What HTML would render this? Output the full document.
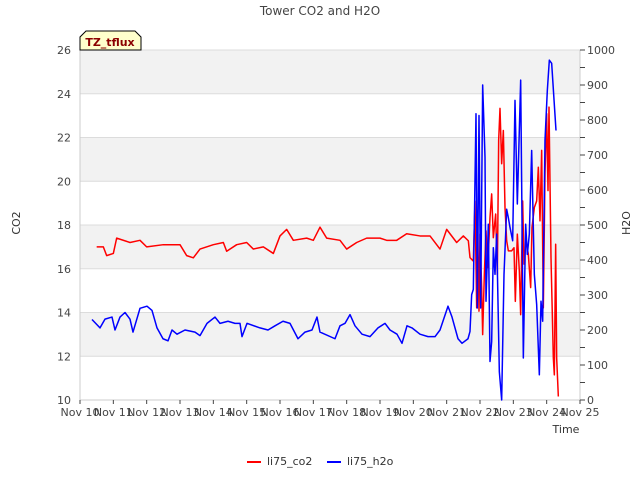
<!DOCTYPE html>
<html><head><meta charset="utf-8"><style>
body{margin:0;background:#fff;width:640px;height:480px;overflow:hidden}
svg text{font-family:"DejaVu Sans","Liberation Sans",sans-serif}
</style></head><body>
<svg id="chart" width="640" height="480" xmlns="http://www.w3.org/2000/svg">
<text x="320" y="15" text-anchor="middle" font-size="12" fill="#444">Tower CO2 and H2O</text>
<g id="bands"></g><g id="axes"></g><g id="series"></g>
<text transform="translate(20,223) rotate(-90)" text-anchor="middle" font-size="11" fill="#333">CO2</text>
<text transform="translate(630,223) rotate(-90)" text-anchor="middle" font-size="11" fill="#333">H2O</text>
<text x="566" y="433" text-anchor="middle" font-size="11" fill="#333">Time</text>
<g>
<path d="M80,50 L80,37 L86,31 L135,31 L141,37 L141,50 Z" fill="#ffffcc" stroke="#000" stroke-width="1"/>
<text x="110" y="46" text-anchor="middle" font-size="11" font-weight="bold" fill="#8b0000">TZ_tflux</text>
</g>
<g>
<line x1="247" y1="462" x2="261" y2="462" stroke="#f00" stroke-width="2"/>
<text x="267" y="465" font-size="11" fill="#333">li75_co2</text>
<line x1="327" y1="462" x2="341" y2="462" stroke="#00f" stroke-width="2"/>
<text x="347" y="465" font-size="11" fill="#333">li75_h2o</text>
</g>
</svg>
<script>
const xTickLabels=["Nov 10","Nov 11","Nov 12","Nov 13","Nov 14","Nov 15","Nov 16","Nov 17","Nov 18","Nov 19","Nov 20","Nov 21","Nov 22","Nov 23","Nov 24","Nov 25"];
const leftTicks=[10,12,14,16,18,20,22,24,26];
const rightTicks=[0,100,200,300,400,500,600,700,800,900,1000];
const co2Days=[0.5,0.7,0.8,1.0,1.1,1.5,1.8,2.0,2.5,3.0,3.2,3.4,3.6,4.0,4.3,4.4,4.7,5.0,5.2,5.5,5.8,6.0,6.2,6.4,6.8,7.0,7.2,7.4,7.8,8.0,8.3,8.6,9.0,9.2,9.5,9.8,10.2,10.5,10.7,10.8,11.0,11.3,11.5,11.65,11.70,11.80,11.85,11.90,11.93,11.97,12.00,12.05,12.08,12.13,12.18,12.23,12.30,12.35,12.40,12.47,12.52,12.56,12.60,12.65,12.70,12.75,12.80,12.85,12.95,13.02,13.06,13.12,13.18,13.22,13.28,13.32,13.38,13.45,13.52,13.56,13.63,13.70,13.75,13.80,13.85,13.90,13.95,14.00,14.04,14.07,14.13,14.20,14.23,14.27,14.30,14.35];
const co2Vals=[17.0,17.0,16.6,16.7,17.4,17.2,17.3,17.0,17.1,17.1,16.6,16.5,16.9,17.1,17.2,16.8,17.1,17.2,16.9,17.0,16.7,17.5,17.8,17.3,17.4,17.3,17.9,17.4,17.3,16.9,17.2,17.4,17.4,17.3,17.3,17.6,17.5,17.5,17.1,16.9,17.8,17.2,17.5,17.28,16.51,16.35,19.10,14.21,18.19,14.06,17.58,15.14,12.99,15.74,17.73,16.05,18.34,19.42,17.42,18.50,15.74,21.87,23.33,20.80,22.32,18.80,17.28,16.82,16.82,16.96,14.51,17.58,15.89,13.90,19.10,16.21,17.28,16.66,15.14,17.89,18.80,19.10,20.64,18.19,21.41,14.21,20.34,23.09,19.57,23.39,16.51,11.92,11.15,17.12,11.92,10.16];
const h2oDays=[0.36,0.6,0.75,0.96,1.05,1.2,1.35,1.5,1.59,1.8,2.01,2.16,2.31,2.49,2.64,2.76,2.91,3.15,3.45,3.6,3.81,4.05,4.2,4.44,4.65,4.8,4.86,5.01,5.4,5.64,5.85,6.09,6.3,6.54,6.75,6.96,7.11,7.2,7.65,7.8,7.95,8.1,8.25,8.46,8.7,8.94,9.15,9.3,9.51,9.66,9.81,9.96,10.2,10.44,10.65,10.8,11.04,11.16,11.34,11.46,11.64,11.70,11.75,11.80,11.88,11.92,11.97,12.02,12.08,12.15,12.18,12.25,12.30,12.35,12.40,12.45,12.50,12.58,12.65,12.72,12.80,12.85,12.90,12.98,13.05,13.12,13.22,13.30,13.37,13.42,13.48,13.55,13.63,13.70,13.78,13.83,13.88,13.95,14.02,14.08,14.15,14.28];
const h2oVals=[230,206,231,237,200,237,250,231,194,262,268,256,206,175,169,200,188,200,194,184,219,237,219,225,219,219,181,219,206,200,212,225,219,175,194,200,237,194,175,212,219,244,212,188,181,206,219,200,188,162,212,206,188,181,181,200,268,237,175,162,175,196,301,316,818,263,813,263,900,694,282,502,110,167,435,359,474,81,0,359,545,521,493,455,856,560,914,120,502,416,474,713,359,273,72,282,225,742,885,971,962,770];
const L=80,R=580,T=50,B=400,NS="http://www.w3.org/2000/svg";
const xS=d=>L+(R-L)*d/15, yL=v=>B-(v-10)/16*(B-T), yR=v=>B-v/1000*(B-T);
function mk(p,tag,a){const e=document.createElementNS(NS,tag);for(const k in a)e.setAttribute(k,a[k]);p.appendChild(e);return e;}
const bands=document.getElementById('bands'),axes=document.getElementById('axes'),ser=document.getElementById('series');
for(let i=0;i<leftTicks.length-1;i++){const v=leftTicks[i];
 const r=mk(bands,'rect',{x:L,y:yL(v+2),width:R-L,height:yL(v)-yL(v+2),fill:(i%2===1)?'#f2f2f2':'#fff'});
 
 }
leftTicks.forEach(v=>{const g=mk(axes,'line',{x1:L,x2:R,y1:yL(v),y2:yL(v),stroke:'#dcdcdc','stroke-width':1});
 
 
 const t=mk(axes,'text',{x:L-9,y:yL(v)+4,'text-anchor':'end','font-size':11,fill:'#444'});t.textContent=v;
 
 });
mk(axes,'line',{x1:L,x2:L,y1:T,y2:B,stroke:'#ccc'});
mk(axes,'line',{x1:R,x2:R,y1:T,y2:B,stroke:'#ccc'});
mk(axes,'line',{x1:L,x2:R,y1:B,y2:B,stroke:'#ccc'});
for(let v=0;v<=1000;v+=50){mk(axes,'line',{x1:R,x2:R+5,y1:yR(v),y2:yR(v),stroke:'#444'});}
rightTicks.forEach(v=>{const t=mk(axes,'text',{x:R+7,y:yR(v)+4,'font-size':11,fill:'#444'});t.textContent=v;
 
 });
xTickLabels.forEach((s,i)=>{mk(axes,'line',{x1:xS(i),x2:xS(i),y1:B,y2:B+4,stroke:'#444'});
 const t=mk(axes,'text',{x:xS(i),y:B+16,'text-anchor':'middle','font-size':11,fill:'#444'});t.textContent=s;
 
 });
const p1=mk(ser,'polyline',{points:co2Days.map((d,i)=>xS(d)+','+yL(co2Vals[i])).join(' '),fill:'none',stroke:'#f00','stroke-width':1.5,'stroke-linejoin':'round'});


const p2=mk(ser,'polyline',{points:h2oDays.map((d,i)=>xS(d)+','+yR(h2oVals[i])).join(' '),fill:'none',stroke:'#00f','stroke-width':1.5,'stroke-linejoin':'round'});


</script>
</body></html>
